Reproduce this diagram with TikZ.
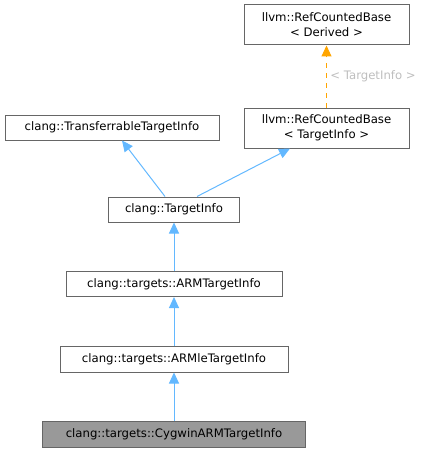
\documentclass[tikz,border=0pt]{standalone}
\usepackage{fontspec}
\setmainfont{DejaVu Sans}
\usetikzlibrary{arrows.meta}

\definecolor{edgeblue}{HTML}{63B8FF}
\definecolor{edgeorange}{HTML}{FFA500}
\definecolor{boxline}{HTML}{666666}
\definecolor{boxfill}{HTML}{999999}
\definecolor{labelgray}{HTML}{BEBEBE}

\begin{document}
\begin{tikzpicture}[x=1pt, y=-1pt, line width=1pt,
    classbox/.style={draw=boxline, fill=white, inner sep=0pt, align=center,
      font=\fontsize{11.7}{15}\selectfont},
    inherit/.style={draw=edgeblue, -{Triangle[length=11pt, width=10pt]}},
    templ/.style={draw=edgeorange, dash pattern=on 5pt off 5pt,
      -{Triangle[length=11pt, width=10pt]}}]
  % ----- Page frame: same size as the reference -----
  \useasboundingbox (0, 0) rectangle (433, 452);

  % ----- Class boxes -----
  \node[classbox, minimum width=165pt, minimum height=40pt] (rcd) at (326.5, 25)
    {llvm::RefCountedBase\\< Derived >};
  \node[classbox, minimum width=165pt, minimum height=40pt] (rct) at (326.5, 128)
    {llvm::RefCountedBase\\< TargetInfo >};
  \node[classbox, minimum width=214pt, minimum height=25pt] (tti) at (112, 127.5)
    {clang::TransferrableTargetInfo};
  \node[classbox, minimum width=131pt, minimum height=25pt] (ti) at (174, 209.5)
    {clang::TargetInfo};
  \node[classbox, minimum width=216pt, minimum height=25pt] (arm) at (174, 284)
    {clang::targets::ARMTargetInfo};
  \node[classbox, minimum width=228pt, minimum height=26pt] (armle) at (174, 359)
    {clang::targets::ARMleTargetInfo};
  \node[classbox, fill=boxfill, minimum width=263pt, minimum height=26pt] (cyg) at (174, 434)
    {clang::targets::CygwinARMTargetInfo};

  % ----- Inheritance edges -----
  \draw[templ] (rct.north) -- (rcd.south)
    node[midway, right, text=labelgray, font=\fontsize{11.7}{14}\selectfont] {< TargetInfo >};
  \draw[inherit] ([xshift=-9pt]ti.north) -- ([xshift=10pt]tti.south);
  \draw[inherit] ([xshift=23pt]ti.north) -- ([xshift=-36.5pt]rct.south);
  \draw[inherit] (arm.north) -- (ti.south);
  \draw[inherit] (armle.north) -- (arm.south);
  \draw[inherit] (cyg.north) -- (armle.south);
\end{tikzpicture}
\end{document}
